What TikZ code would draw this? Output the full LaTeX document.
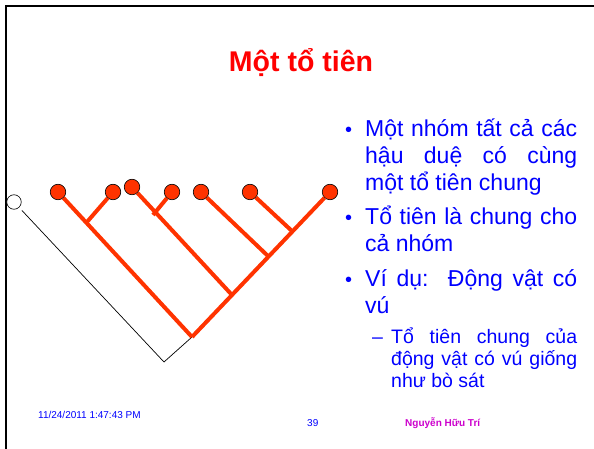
\documentclass[tikz,border=0pt]{standalone}
\usepackage{fontspec}
\setmainfont{Liberation Sans}
\usetikzlibrary{calc}

\definecolor{branch}{RGB}{255,51,0}
\definecolor{txtblue}{RGB}{0,0,255}
\definecolor{author}{RGB}{204,0,204}

\tikzset{
  tip/.style={circle, draw=black, line width=0.6pt, fill=branch,
    minimum size=15.5pt, inner sep=0pt},
  outgroup/.style={circle, draw=black, line width=0.6pt, fill=white,
    minimum size=14.5pt, inner sep=0pt},
  branchline/.style={draw=branch, line width=4pt},
  stemline/.style={draw=black, line width=0.7pt},
  frameline/.style={draw=black, line width=2.4pt},
  bodytext/.style={anchor=base west, inner sep=0pt, text=txtblue,
    font=\fontsize{23}{27}\selectfont},
  subtext/.style={anchor=base west, inner sep=0pt, text=txtblue,
    font=\fontsize{19.5}{22}\selectfont},
  bulletmark/.style={anchor=base west, inner sep=0pt, text=txtblue,
    font=\fontsize{20}{24}\selectfont},
  footer/.style={anchor=base west, inner sep=0pt,
    font=\fontsize{10}{12}\selectfont},
}

\begin{document}
\begin{tikzpicture}[x=1pt, y=-1pt]
  \useasboundingbox (0,0) rectangle (594,449);

  % slide frame
  \draw[frameline] (6,449) -- (6,6) -- (594,6);

  % title
  \node[anchor=base, inner sep=0pt, text=red,
        font=\bfseries\fontsize{28.5}{32}\selectfont] (title) at (301,72) {Một tổ tiên};

  % cladogram: branch points
  \coordinate (R)  at (192,337);
  \coordinate (K)  at (164,362);
  \coordinate (A)  at (87,222);
  \coordinate (J3) at (232,295);
  \coordinate (B)  at (153,215);
  \coordinate (J5) at (269,257);
  \coordinate (J6) at (293,232);

  % outgroup and stem
  \node[outgroup] (w) at (14,202) {};
  \draw[stemline, shorten <=4pt] (w) -- (K) -- (R);

  % terminal taxa
  \node[tip] (c1) at (58,192) {};
  \node[tip] (c2) at (113,192) {};
  \node[tip] (c3) at (132,187) {};
  \node[tip] (c4) at (172,192) {};
  \node[tip] (c5) at (201,192) {};
  \node[tip] (c6) at (250,192) {};
  \node[tip] (c7) at (330,192) {};

  % branches
  \draw[branchline] (c1) -- (R);
  \draw[branchline] (c7) -- (R);
  \draw[branchline] (c2) -- (A);
  \draw[branchline] (c3) -- (J3);
  \draw[branchline] (c4) -- (B);
  \draw[branchline] (c5) -- (J5);
  \draw[branchline] (c6) -- (J6);

  % bullet list
  \node[bulletmark] (d1) at (345,137) {•};
  \node[bodytext] (l11) at (365,137) {\makebox[212pt][s]{Một nhóm tất cả các}};
  \node[bodytext] (l12) at (365,164) {\makebox[212pt][s]{hậu duệ có cùng}};
  \node[bodytext] (l13) at (365,191) {một tổ tiên chung};

  \node[bulletmark] (d2) at (345,224) {•};
  \node[bodytext] (l21) at (365,224) {\makebox[212pt][s]{Tổ tiên là chung cho}};
  \node[bodytext] (l22) at (365,251) {cả nhóm};

  \node[bulletmark] (d3) at (345,286) {•};
  \node[bodytext] (l31) at (365,286) {\makebox[212pt][s]{Ví dụ:\ \ Động vật có}};
  \node[bodytext] (l32) at (365,313) {vú};

  \node[subtext] (dash) at (372,343) {–};
  \node[subtext] (s1) at (391,343) {\makebox[186pt][s]{Tổ tiên chung của}};
  \node[subtext] (s2) at (391,365) {\makebox[186pt][s]{động vật có vú giống}};
  \node[subtext] (s3) at (391,387) {như bò sát};

  % footer
  \node[footer, text=txtblue] (date) at (38,418) {11/24/2011 1:47:43 PM};
  \node[footer, text=txtblue] (page) at (307,426) {39};
  \node[footer, text=author, font=\bfseries\fontsize{10}{12}\selectfont] (auth) at (405,426) {Nguyễn Hữu Trí};
\end{tikzpicture}
\end{document}
